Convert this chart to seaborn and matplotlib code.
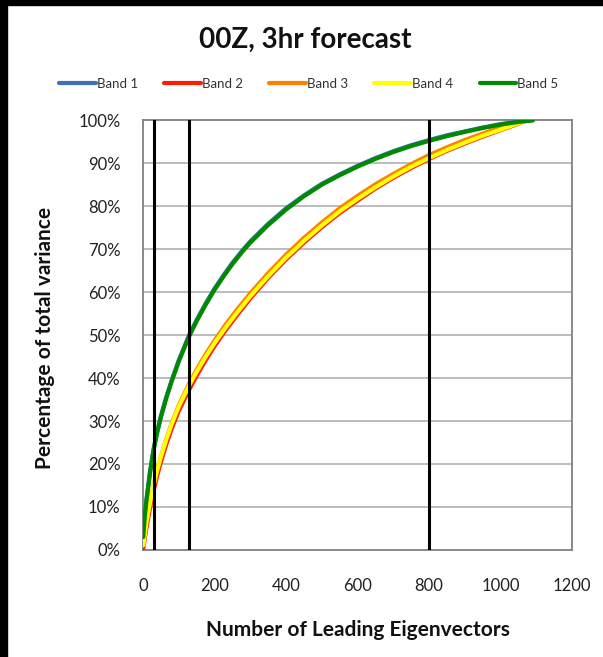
import numpy as np
import pandas as pd
import matplotlib
matplotlib.use("Agg")
import matplotlib.pyplot as plt
import seaborn as sns
from matplotlib.patches import Rectangle
from matplotlib.ticker import PercentFormatter

# ---- data ----
bands = ["Band 1", "Band 2", "Band 3", "Band 4", "Band 5"]
colors = ["#3f6fb5", "#ff1a00", "#ff8000", "#ffff00", "#008a00"]

x_green = [1, 5, 10, 20, 30, 40, 50, 65, 80, 100, 128, 150, 175, 200, 225, 250, 280, 300,
           350, 400, 450, 500, 550, 600, 650, 700, 750, 800, 850, 900, 950, 1000, 1050, 1090]
band5 = [3, 7.5, 11.5, 18, 23.3, 27.3, 30.8, 35.2, 39.1, 43.8, 49.5, 53.2, 57, 60.5, 63.6,
         66.5, 69.6, 71.5, 75.6, 79.2, 82.3, 85, 87.2, 89.2, 91, 92.6, 94, 95.2, 96.3, 97.3,
         98.2, 99, 99.6, 100]
band1 = [3.2, 7.8, 11.8, 18.3, 23.6, 27.6, 31.1, 35.5, 39.4, 44.1, 49.8, 53.5, 57.3, 60.8,
         63.9, 66.8, 69.9, 71.8, 75.9, 79.5, 82.5, 85.2, 87.4, 89.4, 91.2, 92.8, 94.2, 95.4,
         96.5, 97.4, 98.3, 99.1, 99.7, 100]

x_orange = [1, 10, 20, 30, 40, 50, 65, 80, 100, 128, 150, 175, 200, 230, 260, 300, 350,
            400, 450, 500, 550, 600, 650, 700, 750, 800, 850, 900, 950, 1000, 1040, 1080]
band3 = [1, 6.4, 11, 15, 18.5, 21.6, 25.7, 29.4, 33.6, 38.5, 41.9, 45.5, 48.7, 52.3, 55.6,
         59.7, 64.4, 68.7, 72.6, 76.2, 79.5, 82.4, 85.1, 87.5, 89.8, 91.9, 93.7, 95.4, 96.9,
         98.3, 99.3, 100]

x_yellow = [1, 10, 20, 30, 40, 50, 65, 80, 100, 128, 150, 175, 200, 230, 260, 300, 350,
            400, 450, 500, 550, 600, 650, 700, 750, 800, 850, 900, 950, 1000, 1040, 1075]
band4 = [1.1, 6.5, 11.1, 15.1, 18.6, 21.6, 25.6, 29.2, 33.3, 38.1, 41.4, 44.9, 48.1, 51.6,
         54.9, 59, 63.7, 68, 71.9, 75.5, 78.8, 81.7, 84.4, 86.9, 89.2, 91.2, 93.1, 94.8,
         96.4, 97.8, 99, 100]
band2 = [0.4, 5.2, 9.8, 13.8, 17.3, 20.4, 24.5, 28.1, 32.3, 37.1, 40.5, 44.1, 47.4, 51,
         54.3, 58.5, 63.3, 67.6, 71.5, 75.1, 78.4, 81.3, 84.1, 86.6, 88.9, 91, 92.9, 94.6,
         96.2, 97.7, 98.9, 100]

vlines = [32, 128, 800]

title = "00Z, 3hr forecast"
xlabel = "Number of Leading Eigenvectors"
ylabel = "Percentage of total variance"
xticks = [0, 200, 400, 600, 800, 1000, 1200]
yticks = [0, 10, 20, 30, 40, 50, 60, 70, 80, 90, 100]

frames = []
for name, xs, ys in [("Band 1", x_green, band1), ("Band 2", x_yellow, band2),
                     ("Band 3", x_orange, band3), ("Band 4", x_yellow, band4),
                     ("Band 5", x_green, band5)]:
    frames.append(pd.DataFrame({"x": xs, "y": ys, "band": name}))
df = pd.concat(frames, ignore_index=True)

sns.set_theme(style="white")
plt.rcParams["font.family"] = ["Lato", "DejaVu Sans"]

fig = plt.figure(figsize=(6.03, 6.57), dpi=100)
ax = fig.add_axes([0.237, 0.163, 0.712, 0.654])

# horizontal grid
for yv in yticks[1:-1]:
    ax.axhline(yv, color="#b8b8b8", lw=1.3, zorder=0)

sns.lineplot(data=df, x="x", y="y", hue="band", hue_order=bands,
             palette=dict(zip(bands, colors)), linewidth=3.0, ax=ax,
             legend=True, zorder=3)

for v in vlines:
    ax.axvline(v, color="black", lw=2.2, zorder=4)

ax.set_xlim(0, 1200)
ax.set_ylim(0, 100)
ax.set_xticks(xticks)
ax.set_yticks(yticks)
ax.yaxis.set_major_formatter(PercentFormatter(decimals=0))
ax.tick_params(axis="both", which="major", direction="out", length=6, width=1,
               color="#808080", labelsize=12, labelcolor="#222222")
ax.tick_params(axis="y", pad=10)
ax.tick_params(axis="x", pad=14)
for s in ax.spines.values():
    s.set_color("#808080")
    s.set_linewidth(1.3)

ax.set_xlabel(xlabel, fontsize=15, fontweight="bold", color="#111111")
ax.xaxis.set_label_coords(0.5, -0.187)
ax.xaxis.label.set_va("center")
ax.set_ylabel(ylabel, fontsize=15, fontweight="bold", color="#111111")
ax.yaxis.set_label_coords(-0.228, 0.494)
ax.yaxis.label.set_va("center")
fig.text(0.507, 0.939, title, ha="center", va="center", fontsize=20,
         fontweight="bold", color="#111111")

handles, labels = ax.get_legend_handles_labels()
ax.legend_.remove()
leg = fig.legend(handles, labels, loc="center", bbox_to_anchor=(0.512, 0.872), ncol=5,
                 frameon=False, fontsize=9.5, handlelength=2.8, handletextpad=0.05,
                 columnspacing=2.0)
for t in leg.get_texts():
    t.set_color("#333333")

# black frame at the top and left edges
fig.patches.append(Rectangle((0, 0), 0.011, 1, transform=fig.transFigure,
                             color="black", zorder=10))
fig.patches.append(Rectangle((0, 0.993), 1, 0.007, transform=fig.transFigure,
                             color="black", zorder=10))

fig.savefig("out.png", dpi=100, facecolor="white")
